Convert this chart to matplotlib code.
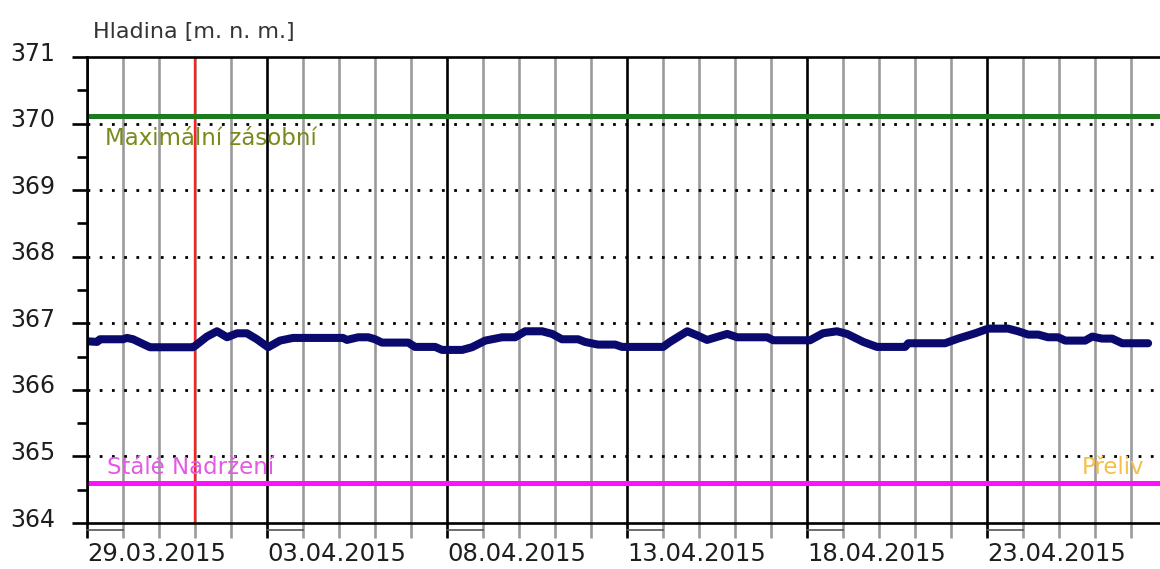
import numpy as np
import pandas as pd
import matplotlib
matplotlib.use("Agg")
import matplotlib.pyplot as plt
import matplotlib.dates as mdates
from matplotlib.transforms import ScaledTranslation, blended_transform_factory

# ---------------- data ----------------
start_date = "2015-03-29"
day_offset = [0.0, 0.28, 0.36, 1.0, 1.11, 1.28, 1.67, 1.75, 2.94, 3.0, 3.33, 3.61, 3.89,
              4.17, 4.44, 4.72, 5.03, 5.36, 5.72, 7.11, 7.22, 7.53, 7.81, 8.0, 8.19,
              8.92, 9.11, 9.67, 9.86, 10.42, 10.69, 11.06, 11.53, 11.89, 12.17, 12.64,
              12.92, 13.19, 13.64, 13.83, 14.19, 14.67, 14.86, 16.0, 16.19, 16.67,
              16.94, 17.22, 17.78, 18.06, 18.89, 19.06, 20.08, 20.44, 20.83, 21.11,
              21.56, 21.94, 22.72, 22.81, 23.83, 24.19, 24.67, 25.03, 25.58, 25.86,
              26.14, 26.42, 26.69, 26.97, 27.17, 27.72, 27.92, 28.19, 28.47, 28.75, 29.47]
level = [366.73, 366.72, 366.76, 366.76, 366.78, 366.76, 366.66, 366.64, 366.64, 366.66,
         366.80, 366.88, 366.79, 366.85, 366.85, 366.76, 366.64, 366.74, 366.78, 366.78,
         366.75, 366.79, 366.79, 366.76, 366.71, 366.71, 366.645, 366.645, 366.60, 366.60,
         366.64, 366.74, 366.79, 366.79, 366.88, 366.88, 366.84, 366.76, 366.76, 366.72,
         366.68, 366.68, 366.645, 366.645, 366.72, 366.88, 366.82, 366.75, 366.84, 366.79,
         366.79, 366.745, 366.745, 366.85, 366.88, 366.84, 366.72, 366.645, 366.645, 366.70,
         366.70, 366.77, 366.85, 366.92, 366.92, 366.88, 366.83, 366.83, 366.79, 366.79,
         366.74, 366.74, 366.80, 366.77, 366.77, 366.70, 366.70]

max_storage = 370.11          # Maximální zásobní
permanent_storage = 364.60    # Stálé nadržení
current_day = "2015-04-01"    # red marker line
major_labels = ["29.03.2015", "03.04.2015", "08.04.2015", "13.04.2015", "18.04.2015", "23.04.2015"]
y_ticks = [364, 365, 366, 367, 368, 369, 370, 371]
x_span_days = 29.8

title_text = "Hladina [m. n. m.]"
max_label = "Maximální zásobní"
perm_label = "Stálé Nadržení"
overflow_label = "Přeliv"

# ---------------- figure ----------------
plt.rcParams['font.family'] = ['DejaVu Sans']
fig = plt.figure(figsize=(11.6, 5.69), dpi=100)
ax = fig.add_axes([87/1160, 1 - 523/569, 1 - 87/1160, (523 - 57)/569])

t0 = pd.Timestamp(start_date)
times = [t0 + pd.Timedelta(days=d) for d in day_offset]
major_dates = [pd.to_datetime(s, format="%d.%m.%Y") for s in major_labels]
t_end = t0 + pd.Timedelta(days=x_span_days)
all_days = pd.date_range(t0, t_end, freq="D")

ax.set_xlim(t0, t_end)
ax.set_ylim(y_ticks[0], y_ticks[-1])

# vertical grid: each day gray, every 5 days black
for d in all_days:
    is_major = any(d == m for m in major_dates)
    ax.axvline(d, color="black" if is_major else "#9a9a9a", lw=1.9, zorder=1)

# horizontal dotted grid
for yv in y_ticks[1:-1]:
    ax.axhline(yv, color="black", lw=2.0, ls=(0, (1, 3.4)), zorder=1.5)

# red current day line
ax.axvline(pd.Timestamp(current_day), color="#ff2020", lw=1.7, zorder=2)

# reference levels
ax.axhline(max_storage, color="#1e7a1e", lw=3.6, zorder=3)
ax.axhline(permanent_storage, color="#ff10ff", lw=3.6, zorder=3)

# water level
ax.plot(times, level, color="#0a0a6e", lw=5.8, solid_capstyle="round",
        solid_joinstyle="round", zorder=4)

# labels of levels
ax.text(t0 + pd.Timedelta(days=0.5), 369.78, max_label, color="#7a8a1a",
        fontsize=16.5, va="center", ha="left", zorder=5)
ax.text(t0 + pd.Timedelta(days=0.55), 364.83, perm_label, color="#e45ae4",
        fontsize=16.5, va="center", ha="left", zorder=5)
ax.text(t0 + pd.Timedelta(days=29.35), 364.83, overflow_label, color="#f5c04a",
        fontsize=16.5, va="center", ha="right", zorder=5)

# spines
ax.spines["right"].set_visible(False)
for s in ["left", "bottom", "top"]:
    ax.spines[s].set_linewidth(1.9)
    ax.spines[s].set_color("black")
    ax.spines[s].set_zorder(6)

# y ticks
ax.set_yticks(y_ticks)
ax.set_yticklabels([str(v) for v in y_ticks])
ax.set_yticks([v + 0.5 for v in y_ticks[:-1]], minor=True)
ax.tick_params(axis="y", which="major", direction="out", length=11, width=1.9,
               labelsize=17, pad=12, colors="black", labelcolor="#1e1e1e")
ax.tick_params(axis="y", which="minor", direction="out", length=7.5, width=1.9, colors="black")
off = ScaledTranslation(0, 0.06, fig.dpi_scale_trans)
for lab in ax.get_yticklabels():
    lab.set_transform(lab.get_transform() + off)

# x ticks
ax.set_xticks(major_dates)
ax.set_xticklabels(major_labels)
ax.set_xticks([d for d in all_days if not any(d == m for m in major_dates)], minor=True)
ax.tick_params(axis="x", which="major", direction="out", length=11, width=1.9,
               labelsize=17.5, pad=3, colors="black", labelcolor="#1e1e1e")
ax.tick_params(axis="x", which="minor", direction="out", length=11, width=1.9,
               colors="#9a9a9a")
for lab in ax.get_xticklabels():
    lab.set_ha("left")

# small brackets below the axis, from each major day to the next day
btrans = blended_transform_factory(ax.transData, ax.transAxes)
for m in major_dates:
    ax.plot([m, m + pd.Timedelta(days=1)], [-0.016, -0.016], transform=btrans,
            color="#555555", lw=1.2, clip_on=False, zorder=6)

fig.text(93/1160, 1 - 32/569, title_text, fontsize=16, color="#333333",
         va="center", ha="left")

fig.savefig("out.png", dpi=100, facecolor="white")
